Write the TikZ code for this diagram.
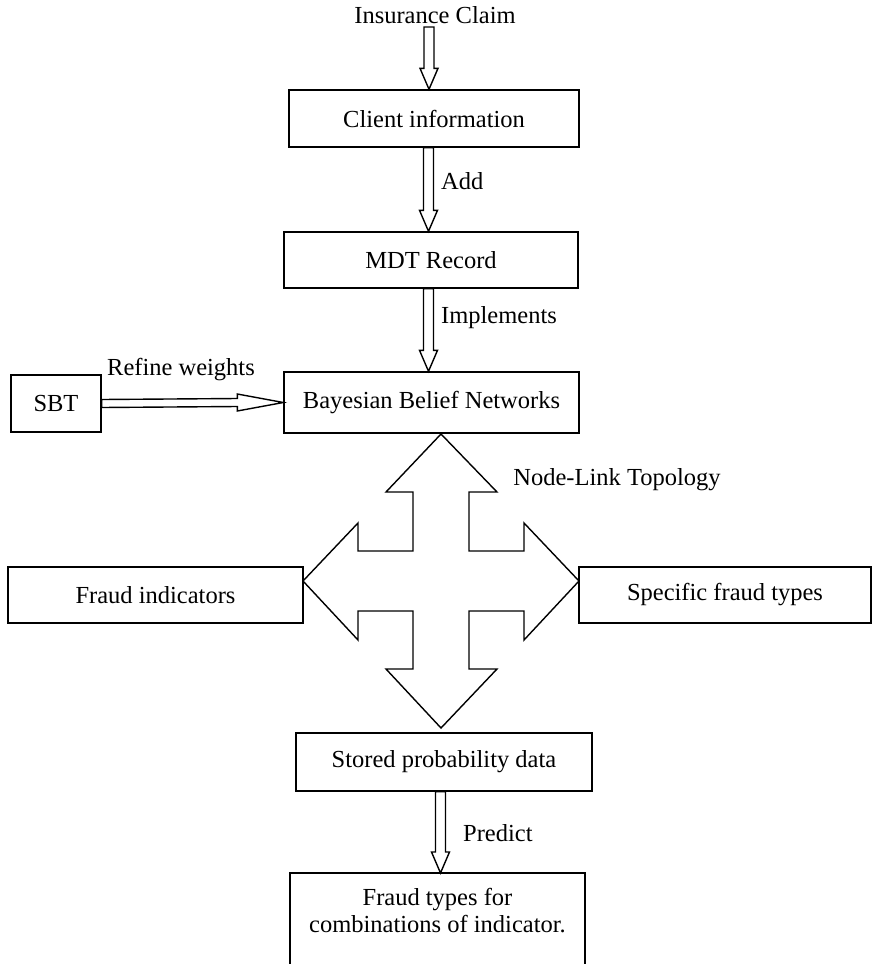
\documentclass[tikz,border=0pt]{standalone}
\usepackage{fontspec}
\setmainfont{Liberation Serif}
\usetikzlibrary{calc}
\tikzset{
  box/.style={draw, line width=1.4pt, inner sep=0pt, anchor=center},
  lbl/.style={inner sep=0pt, font=\fontsize{24.5}{27}\selectfont},
  blk/.style={draw, line width=1.4pt, fill=white, line join=miter},
}
\newcommand\hollowdown[2]{%
  \draw[blk] ($(#1)+(-5,0)$) -- ($(#2)+(-5,-21)$) -- ($(#2)+(-9,-21)$) -- (#2)
    -- ($(#2)+(9,-21)$) -- ($(#2)+(5,-21)$) -- ($(#1)+(5,0)$) -- cycle;}
\begin{document}
\begin{tikzpicture}[x=1pt,y=-1pt]
\useasboundingbox (0,0) rectangle (871,964);

% boxes
\node[box, minimum width=290pt, minimum height=57pt, lbl] (ci) at (434,118.5) {Client information};
\node[box, minimum width=294pt, minimum height=56pt, lbl] (mdt) at (431,260) {MDT Record};
\node[box, minimum width=295pt, minimum height=61pt, lbl] (bbn) at (431.5,402.5) {Bayesian Belief Networks};
\node[box, minimum width=90pt, minimum height=57pt, lbl] (sbt) at (56,403.5) {SBT};
\node[box, minimum width=295pt, minimum height=56pt, lbl] (fi) at (155.5,595) {Fraud indicators};
\node[box, minimum width=292pt, minimum height=56pt, lbl] (sft) at (725,595) {Specific fraud types};
\node[box, minimum width=296pt, minimum height=58pt, lbl] (spd) at (444,762) {Stored probability data};

% bottom (open) box
\node[lbl, align=center] (ft) at (437.5,911) {Fraud types for\\combinations of indicator.};
\coordinate (ftl) at (290,975);
\coordinate (ftr) at (585,975);
\coordinate (fttl) at (290,873);
\coordinate (fttr) at (585,873);
\draw[line width=1.4pt] (ftl) -- (fttl) -- (fttr) -- (ftr);

% free labels
\node[lbl] (ic) at (435,15) {Insurance Claim};
\node[lbl, anchor=west] (add) at (441,181) {Add};
\node[lbl, anchor=west] (imp) at (441,318) {Implements};
\node[lbl] (rw) at (181,370) {Refine weights};
\node[lbl] (nlt) at (617,480) {Node-Link Topology};
\node[lbl, anchor=west] (pred) at (463,833) {Predict};

% hollow arrows
\coordinate (ax1) at (429,0);
\coordinate (ax2) at (428.5,0);
\coordinate (ax3) at (440.5,0);
\coordinate (a0s) at (429,27);
\hollowdown{a0s}{ci.north -| ax1}
\hollowdown{ci.south -| ax2}{mdt.north -| ax2}
\hollowdown{mdt.south -| ax2}{bbn.north -| ax2}
\hollowdown{spd.south -| ax3}{fttl -| ax3}

% SBT -> BBN
\coordinate (hs) at (sbt.east);
\coordinate (ht) at (bbn.west);
\draw[blk] ($(hs)+(0,-4)$) -- ($(ht)+(-46,-4)$) -- ($(ht)+(-46,-8.5)$) -- (ht)
  -- ($(ht)+(-46,8.5)$) -- ($(ht)+(-46,4)$) -- ($(hs)+(0,4)$) -- cycle;

% four-way arrow
\draw[blk] (441,434) -- (497,492) -- (469,492) -- (469,551) -- (524,551) -- (524,523)
  -- (579,581) -- (524,640) -- (524,611) -- (469,611) -- (469,669) -- (497,669)
  -- (441,728) -- (386,669) -- (413,669) -- (413,611) -- (358,611) -- (358,640)
  -- (303,581) -- (358,523) -- (358,551) -- (413,551) -- (413,492) -- (386,492) -- cycle;
\end{tikzpicture}
\end{document}
